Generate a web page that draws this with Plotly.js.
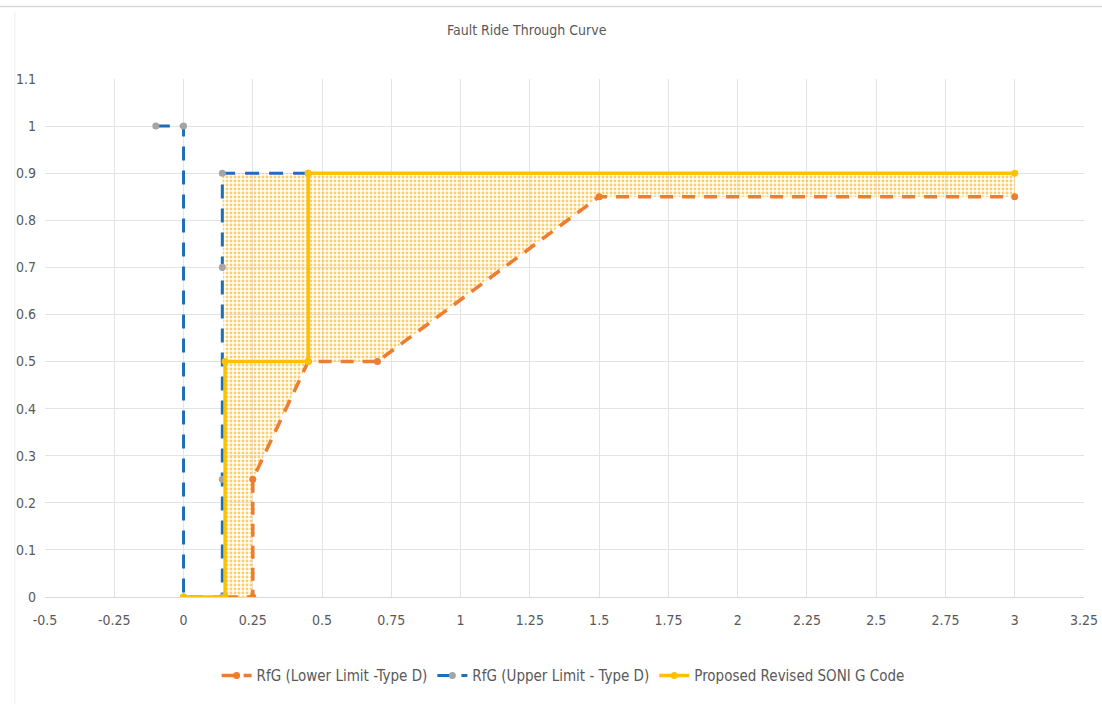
<!DOCTYPE html>
<html>
<head>
<meta charset="utf-8">
<script src="https://cdn.plot.ly/plotly-3.0.1.min.js"></script>
<style>
html,body{margin:0;padding:0;background:#fff;}
#chart{width:1102px;height:704px;}
#chart text{font-stretch:condensed !important;}
</style>
</head>
<body>
<div id="chart"></div>
<script>
// Lower limit (RfG Type D)
const lowerX = [0.15, 0.25, 0.25, 0.45, 0.7, 1.5, 3];
const lowerY = [0, 0, 0.25, 0.5, 0.5, 0.85, 0.85];
// Upper limit (RfG Type D)
const upperX = [-0.1, 0, 0, 0.14, 0.14, 0.14, 0.14, 0.45];
const upperY = [1, 1, 0, 0, 0.25, 0.7, 0.9, 0.9];
// Proposed revised SONI G code
const soniX = [0, 0.15, 0.15, 0.45, 0.45, 3];
const soniY = [0, 0, 0.5, 0.5, 0.9, 0.9];
// Shaded region boundary
const areaX = [0.14, 0.45, 3, 3, 1.5, 0.7, 0.45, 0.25, 0.25, 0.15, 0.14];
const areaY = [0.9, 0.9, 0.9, 0.85, 0.85, 0.5, 0.5, 0.25, 0, 0, 0.9];

const seriesNames = ['RfG (Lower Limit -Type D)', 'RfG (Upper Limit - Type D)', 'Proposed Revised SONI G Code'];
const xTicks = [-0.5, -0.25, 0, 0.25, 0.5, 0.75, 1, 1.25, 1.5, 1.75, 2, 2.25, 2.5, 2.75, 3, 3.25];
const yTicks = [0, 0.1, 0.2, 0.3, 0.4, 0.5, 0.6, 0.7, 0.8, 0.9, 1, 1.1];

const FONT = '"DejaVu Sans Condensed", "DejaVu Sans", sans-serif';

const traces = [
  {
    x: areaX, y: areaY, type: 'scatter', mode: 'none', fill: 'toself',
    fillcolor: 'rgba(255,195,80,0.2)',
    fillpattern: {shape: '.', fgcolor: 'rgba(255,180,30,0.65)', size: 4, solidity: 0.4},
    showlegend: false, hoverinfo: 'skip'
  },
  {
    x: lowerX, y: lowerY, type: 'scatter', mode: 'lines+markers', name: seriesNames[0],
    line: {color: '#ED7D31', width: 3.5, dash: '13px,9px'},
    marker: {color: '#ED7D31', size: 7, symbol: 'circle'}
  },
  {
    x: upperX, y: upperY, type: 'scatter', mode: 'lines+markers', name: seriesNames[1],
    line: {color: '#1F6FB8', width: 3, dash: '14px,10px'},
    marker: {color: '#A5A5A5', size: 7, symbol: 'circle'}
  },
  {
    x: soniX, y: soniY, type: 'scatter', mode: 'lines+markers', name: seriesNames[2],
    line: {color: '#FFC000', width: 3.5},
    marker: {color: '#FFC000', size: 7, symbol: 'circle'}
  }
];

const layout = {
  width: 1102, height: 704,
  paper_bgcolor: '#fff', plot_bgcolor: '#fff',
  margin: {l: 45, r: 18, t: 79, b: 107},
  font: {family: FONT, color: '#595959', size: 13},
  title: {text: 'Fault Ride Through Curve', font: {family: FONT, size: 14, color: '#595959'},
          x: 0.478, xref: 'container', xanchor: 'center', y: 0.957, yref: 'container', yanchor: 'middle'},
  xaxis: {
    range: [-0.5, 3.25], tickvals: xTicks, ticktext: xTicks.map(String),
    showgrid: true, gridcolor: '#E3E3E3', gridwidth: 1, zeroline: false,
    showline: true, linecolor: '#D9D9D9', linewidth: 1, ticks: '',
    tickfont: {family: FONT, size: 14, color: '#595959'}, ticklabelstandoff: 10
  },
  yaxis: {
    range: [0, 1.1], tickvals: yTicks, ticktext: yTicks.map(String),
    showgrid: true, gridcolor: '#E3E3E3', gridwidth: 1, zeroline: false,
    showline: false, ticks: '',
    tickfont: {family: FONT, size: 14, color: '#595959'}, ticklabelstandoff: 8
  },
  legend: {
    orientation: 'h', x: 0.511, xanchor: 'center', xref: 'container', y: 0.04, yref: 'container', yanchor: 'middle',
    font: {family: FONT, size: 15, color: '#595959'}, itemwidth: 30, traceorder: 'normal'
  },
  shapes: [
    {type: 'line', xref: 'paper', yref: 'paper', x0: -0.05, x1: 1.02, y0: 1.14, y1: 1.14,
     line: {color: '#D9D9D9', width: 1.5}, layer: 'below'},
    {type: 'line', xref: 'paper', yref: 'paper', x0: -0.029, x1: -0.029, y0: 1.13, y1: -0.21,
     line: {color: '#EEEEEE', width: 1}, layer: 'below'}
  ],
  showlegend: true
};

Plotly.newPlot('chart', traces, layout, {displayModeBar: false, staticPlot: true});
</script>
</body>
</html>
